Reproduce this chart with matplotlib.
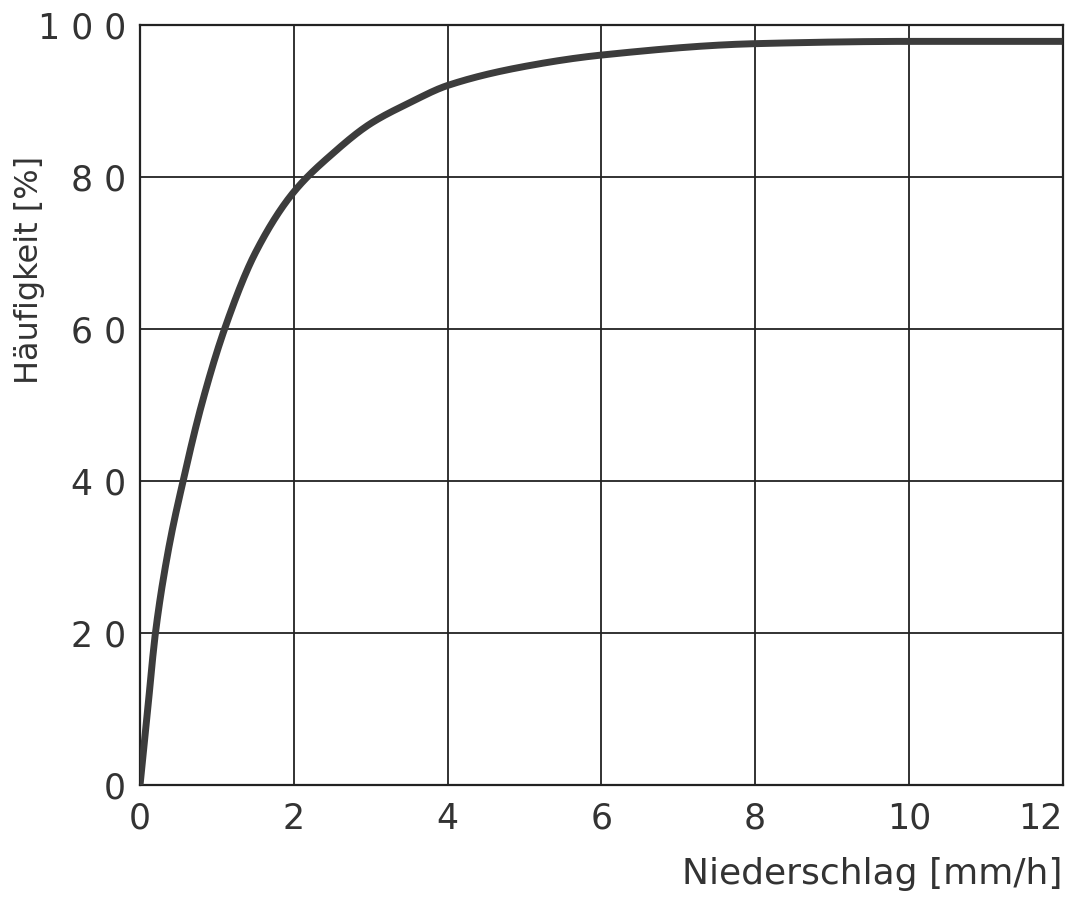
import numpy as np
import matplotlib.pyplot as plt

# Niederschlag [mm/h] vs Häufigkeit [%]
regen = [0, 0.1, 0.2, 0.37, 0.56, 0.8, 1.1, 1.5, 2.0, 2.5, 3.0, 3.5, 4.0, 5.0, 6.0, 8.0, 10.0, 12.0]
haeuf = [0, 10, 20, 31, 40, 50, 60, 70, 78, 83, 87, 89.7, 92, 94.5, 96, 97.5, 97.8, 97.8]

xticks = [0, 2, 4, 6, 8, 10, 12]
yticks = [0, 20, 40, 60, 80, 100]

# monotone cubic through the read points, so the curve stays smooth
def pchip(x, y, xn):
    x = np.asarray(x, float); y = np.asarray(y, float)
    h = np.diff(x); d = np.diff(y) / h
    m = np.zeros_like(y)
    for i in range(1, len(x) - 1):
        if d[i-1] * d[i] > 0:
            w1 = 2*h[i] + h[i-1]; w2 = h[i] + 2*h[i-1]
            m[i] = (w1 + w2) / (w1/d[i-1] + w2/d[i])
    m[0] = d[0]; m[-1] = d[-1]
    out = []
    for xv in xn:
        k = min(np.searchsorted(x, xv, side='right') - 1, len(x) - 2)
        t = (xv - x[k]) / h[k]
        h00 = 2*t**3 - 3*t**2 + 1; h10 = t**3 - 2*t**2 + t
        h01 = -2*t**3 + 3*t**2; h11 = t**3 - t**2
        out.append(h00*y[k] + h10*h[k]*m[k] + h01*y[k+1] + h11*h[k]*m[k+1])
    return np.array(out)

xs = np.linspace(0, 12, 800)
ys = pchip(regen, haeuf, xs)

fig = plt.figure(figsize=(10.69, 9.13), dpi=100)
ax = fig.add_axes([0.131, 0.140, 0.863, 0.833])

ax.plot(xs, ys, color='#3c3c3c', lw=5, solid_capstyle='butt', zorder=3)

ax.set_xlim(0, 12)
ax.set_ylim(0, 100)
ax.set_xticks(xticks)
ax.set_yticks(yticks)
ax.set_xticklabels([str(t) for t in xticks])
ax.set_yticklabels([' '.join(str(t)) for t in yticks])
ax.tick_params(length=0, labelsize=25, colors='#333333')
ax.tick_params(axis='x', pad=12)
ax.tick_params(axis='y', pad=10)
ax.get_xticklabels()[-1].set_horizontalalignment('right')
ax.grid(True, color='#222222', lw=1.3)
for s in ax.spines.values():
    s.set_linewidth(1.6)
    s.set_color('#222222')

fig.text(0.994, 0.043, 'Niederschlag [mm/h]', ha='right', va='center',
         fontsize=26, color='#333333')
fig.text(0.028, 0.704, 'Häufigkeit [%]', rotation=90, ha='center', va='center',
         fontsize=23, color='#333333')

fig.savefig('out.png', dpi=100)
